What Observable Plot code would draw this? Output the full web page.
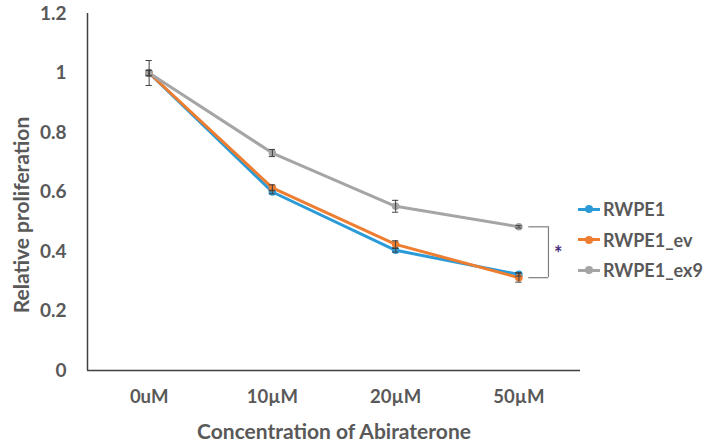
<!DOCTYPE html>
<html><head><meta charset="utf-8">
<script src="https://cdn.jsdelivr.net/npm/d3@7"></script>
<script src="https://cdn.jsdelivr.net/npm/@observablehq/plot@0.6"></script>
<style>
body{margin:0;background:#fff;font-family:Lato,"Open Sans",sans-serif;}
#wrap{position:relative;width:704px;height:446px;overflow:hidden;}
#legend{position:absolute;left:578px;top:194px;width:126px;}
.item{display:flex;align-items:center;height:30.5px;font-weight:700;font-size:18px;color:#595959;white-space:nowrap;}
.sw{position:relative;width:22px;height:3px;margin-right:3px;flex:none;}
.sw i{position:absolute;left:7px;top:-2.5px;width:8px;height:8px;border-radius:50%;}
</style></head>
<body><div id="wrap"><div id="legend"></div></div>
<script>
const categories = ["0uM", "10µM", "20µM", "50µM"];
const seriesNames = ["RWPE1", "RWPE1_ev", "RWPE1_ex9"];
const colors = ["#2b9bd8", "#ED7D31", "#A5A5A5"];
const rwpe1 = [1.0, 0.600, 0.404, 0.323];
const rwpe1Err = [0.008, 0.006, 0.006, 0.006];
const rwpe1_ev = [1.0, 0.614, 0.424, 0.312];
const rwpe1_evErr = [0.01, 0.01, 0.012, 0.015];
const rwpe1_ex9 = [1.0, 0.731, 0.552, 0.483];
const rwpe1_ex9Err = [0.042, 0.012, 0.02, 0.004];
const yTicks = [0, 0.2, 0.4, 0.6, 0.8, 1, 1.2];
const bracketSeries = [rwpe1_ex9[3], rwpe1_ev[3]];

const vals = [rwpe1, rwpe1_ev, rwpe1_ex9];
const errs = [rwpe1Err, rwpe1_evErr, rwpe1_ex9Err];
const data = [];
seriesNames.forEach((s, k) => categories.forEach((c, i) =>
  data.push({series: s, i, cat: c, y: vals[k][i], e: errs[k][i]})));

const txt = "#595959";
const plot = Plot.plot({
  width: 704, height: 446,
  marginLeft: 87, marginRight: 124, marginTop: 13, marginBottom: 76,
  style: {fontFamily: "Lato, 'Open Sans', sans-serif", color: txt, background: "transparent"},
  x: {type: "linear", domain: [-0.5, 3.5]},
  y: {domain: [0, 1.2]},
  color: {domain: seriesNames, range: colors},
  marks: [
    Plot.axisY({ticks: yTicks, tickSize: 0, tickPadding: 21, tickFormat: d => String(+d.toFixed(1)),
      fontSize: 19, fontWeight: 700, fill: txt, label: null}),
    Plot.axisX({ticks: [0, 1, 2, 3], tickSize: 0, tickPadding: 19, tickFormat: i => categories[i],
      fontSize: 18.5, fontWeight: 700, fill: txt, label: null}),
    Plot.ruleX([-0.5], {stroke: "#404040", strokeWidth: 1.5}),
    Plot.ruleY([0], {stroke: "#404040", strokeWidth: 1.5}),
    Plot.lineY(data, {x: "i", y: "y", z: "series", stroke: "series", strokeWidth: 3}),
    Plot.dot(data, {x: "i", y: "y", fill: "series", r: 3.8}),
    Plot.ruleX(data, {x: "i", y1: d => d.y - d.e, y2: d => d.y + d.e, stroke: "#404040", strokeWidth: 1}),
    Plot.ruleY(data, {x1: d => d.i - 0.025, x2: d => d.i + 0.025, y: d => d.y - d.e, stroke: "#404040", strokeWidth: 1}),
    Plot.ruleY(data, {x1: d => d.i - 0.025, x2: d => d.i + 0.025, y: d => d.y + d.e, stroke: "#404040", strokeWidth: 1}),
    Plot.ruleY(bracketSeries, {x1: 3.08, x2: 3.24, y: d => d, stroke: "#7f7f7f", strokeWidth: 1.2}),
    Plot.ruleX([3.24], {y1: bracketSeries[0], y2: bracketSeries[1], stroke: "#7f7f7f", strokeWidth: 1.2}),
    Plot.text(["*"], {x: 3.32, y: (bracketSeries[0] + bracketSeries[1]) / 2, fill: "#4b2d7f", fontSize: 20, fontWeight: 700, dy: 2}),
    Plot.text(["Relative proliferation"], {frameAnchor: "left", textAnchor: "middle", dx: -65, dy: 23, rotate: -90, fontSize: 21, fontWeight: 700, fill: txt}),
    Plot.text(["Concentration of Abiraterone"], {frameAnchor: "bottom", textAnchor: "middle", dy: 68, fontSize: 21, fontWeight: 700, fill: txt})
  ]
});
document.getElementById("wrap").prepend(plot);
const lg = document.getElementById("legend");
seriesNames.forEach((s, k) => {
  const it = document.createElement("div");
  it.className = "item";
  it.innerHTML = `<span class="sw" style="background:${colors[k]}"><i style="background:${colors[k]}"></i></span>${s}`;
  lg.appendChild(it);
});
</script></body></html>
